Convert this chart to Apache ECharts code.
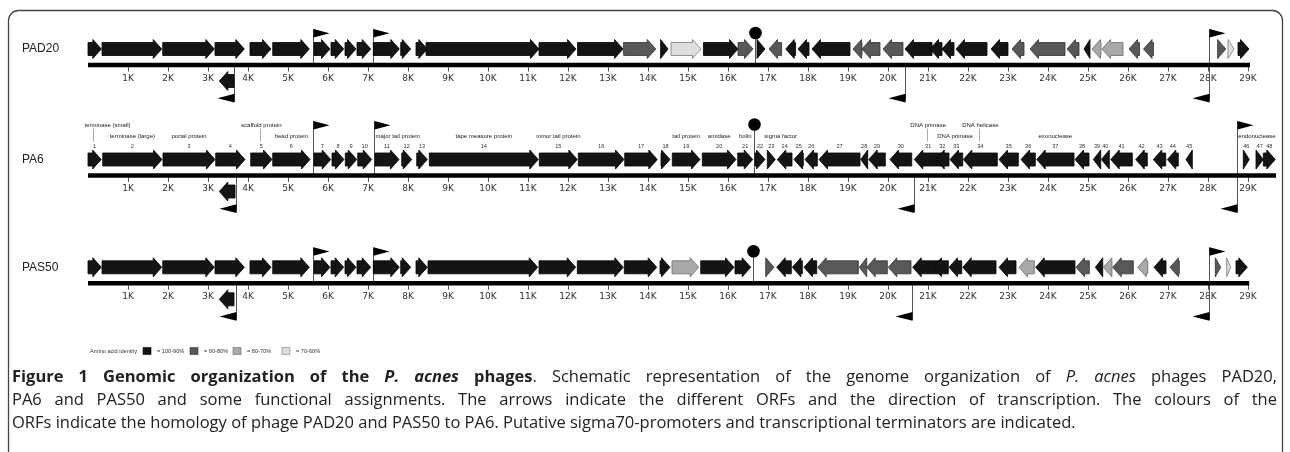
<!DOCTYPE html>
<html>
<head>
<meta charset="utf-8">
<script src="https://cdn.jsdelivr.net/npm/echarts@6/dist/echarts.min.js"></script>
<style>
html,body{margin:0;padding:0;background:#fff;}
#chart{width:1290px;height:452px;}
</style>
</head>
<body>
<div id="chart"></div>
<script>
// ---------------- DATA ----------------
const TICK_VALUES = [1000,2000,3000,4000,5000,6000,7000,8000,9000,10000,11000,12000,13000,14000,15000,16000,17000,18000,19000,20000,21000,22000,23000,24000,25000,26000,27000,28000,29000];
const TICK_LABELS = ['1K','2K','3K','4K','5K','6K','7K','8K','9K','10K','11K','12K','13K','14K','15K','16K','17K','18K','19K','20K','21K','22K','23K','24K','25K','26K','27K','28K','29K'];
const TRACK_NAMES = ['PAD20','PA6','PAS50'];
const GENOME_LENGTHS = [29050, 29700, 29030];

// identity class: 0 = 100-90%, 1 = 90-80%, 2 = 80-70%, 3 = 70-60%
const PAD20_START = [0,350,1868,3175,4050,4618,5650,6075,6425,6725,7133,7818,8200,8450,11275,12238,13390,14315,14575,15385,16250,16725,17025,17443,17750,18100,19125,19350,19875,20425,21050,21350,21700,22575,23100,23550,24475,24900,25100,25350,26025,26388,28240,28500,28750];
const PAD20_END   = [333,1843,3158,3908,4575,5533,6050,6393,6700,7068,7783,8068,8483,11275,12200,13375,14193,14500,15325,16250,16625,16925,17340,17690,18025,19050,19350,19800,20375,21100,21350,21650,22475,23000,23400,24425,24775,25050,25325,25875,26288,26638,28445,28650,29025];
const PAD20_STRAND = [1,1,1,1,1,1,1,1,1,1, 1,1,1,1,1,1,1,1,1,1, 1,1,-1,-1,-1,-1,-1,-1,-1,-1, -1,-1,-1,-1,-1,-1,-1,-1,-1,-1, -1,-1,1,1,1];
const PAD20_CLASS  = [0,0,0,0,0,0,0,0,0,0, 0,0,0,0,0,0,1,0,3,0, 1,0,1,0,0,0,1,1,1,0, 0,0,0,0,1,1,1,0,2,2, 1,1,1,3,0];
const PAD20_BELOW_START = [3283], PAD20_BELOW_END = [3650];
const PAD20_PROMOTER_FWD = [5633, 7120, 28035];
const PAD20_PROMOTER_REV = [3660, 20425, 28035];
const PAD20_TERMINATOR = [16675];

const PA6_START = [0,368,1875,3193,4068,4618,5650,6100,6433,6743,7175,7843,8218,8533,11283,12258,13418,14325,14608,15358,16243,16675,16983,17233,17650,17925,18275,19318,19518,20050,20658,21193,21550,21883,22775,23325,23718,24675,25133,25333,25568,26193,26633,26983,27450,28883,29200,29383];
const PA6_END   = [330,1850,3175,3925,4600,5550,6068,6400,6718,7093,7775,8093,8483,11258,12233,13400,14233,14550,15300,16200,16618,16925,17183,17600,17883,18233,19300,19493,19933,20593,21350,21525,21868,22733,23258,23683,24650,25025,25318,25533,26108,26483,26943,27258,27608,29033,29383,29683];
const PA6_STRAND = [1,1,1,1,1,1,1,1,1,1, 1,1,1,1,1,1,1,1,1,1, 1,1,1,-1,-1,-1,-1,-1,-1,-1, -1,-1,-1,-1,-1,-1,-1,-1,-1,-1, -1,-1,-1,-1,-1,1,1,1];
const PA6_BELOW_START = [3283], PA6_BELOW_END = [3675];
const PA6_PROMOTER_FWD = [5633, 7158, 28733];
const PA6_PROMOTER_REV = [3693, 20658, 28733];
const PA6_TERMINATOR = [16658];
const PA6_ANNOT_TEXT = ['terminase (small)','terminase (large)','portal protein','scaffold protein','head protein','major tail protein','tape measure protein','minor tail protein','tail protein','amidase','holin','sigma factor','DNA primase','DNA primase','DNA helicase','exonuclease','endonuclease'];
const PA6_ANNOT_GENE = [1,2,3,5,6,11,14,15,19,20,21,23,31,32,34,37,46];
const PA6_ANNOT_ROW  = [0,1,1,0,1,1,1,1,1,1,1,1,0,1,0,1,1];

const PAS50_START = [0,350,1868,3175,4050,4618,5650,6075,6425,6725,7133,7818,8200,8500,11275,12233,13408,14300,14600,15318,16175,16943,17218,17608,17900,18243,19283,19468,20008,20618,21125,21525,21868,22775,23275,23693,24700,25183,25383,25618,26243,26650,27050,28183,28468,28700];
const PAS50_END   = [333,1843,3158,3908,4575,5533,6050,6393,6700,7068,7783,8068,8483,11243,12193,13383,14218,14550,15268,16150,16568,17150,17583,17858,18218,19258,19468,19983,20575,21350,21508,21843,22700,23200,23658,24675,25033,25368,25600,26133,26493,26950,27283,28318,28568,28983];
const PAS50_STRAND = [1,1,1,1,1,1,1,1,1,1, 1,1,1,1,1,1,1,1,1,1, 1,1,-1,-1,-1,-1,-1,-1,-1,-1, -1,-1,-1,-1,-1,-1,-1,-1,-1,-1, -1,-1,-1,1,1,1];
const PAS50_CLASS  = [0,0,0,0,0,0,0,0,0,0, 0,0,0,0,0,0,0,0,2,0, 0,1,0,0,0,1,1,1,1,0, 0,0,0,0,2,0,1,0,2,1, 2,0,1,1,3,0];
const PAS50_BELOW_START = [3283], PAS50_BELOW_END = [3650];
const PAS50_PROMOTER_FWD = [5633, 7120, 28033];
const PAS50_PROMOTER_REV = [3693, 20608, 28033];
const PAS50_TERMINATOR = [16618];

const IDENTITY_LABELS = ['= 100-90%','= 90-80%','= 80-70%','= 70-60%'];
const LEGEND_TITLE = 'Amino acid identity:';

// ---------------- STYLE / LAYOUT ----------------
const FILLS   = ['#141414','#585858','#a9a9a9','#dedede'];
const STROKES = ['#000000','#303030','#6a6a6a','#7a7a7a'];
const AXIS_Y = [65, 175.5, 283.3];
const FLAG_TOP = [36, 54.5, 36];
const TERM_UP = [32, 51, 32];
const HEAD = 8.5, BODY_H = 6.5, HEAD_H = 9.5, GENE_OFF = 16;

const chart = echarts.init(document.getElementById('chart'), null, {renderer:'canvas'});

function geneSeries(ti, starts, ends, strands, classes, lane){
  const data = starts.map((s,k)=>[s, ends[k], strands[k], classes ? classes[k] : 0]);
  return {
    type:'custom', xAxisIndex:ti, yAxisIndex:ti, z:5, silent:true, data,
    renderItem:(params, api)=>{
      const s=api.value(0), e=api.value(1), d=api.value(2), c=api.value(3);
      const a=api.coord([s,0]), b=api.coord([e,0]);
      const cy = a[1] + (lane ? GENE_OFF : -GENE_OFF);
      const x0=a[0], x1=b[0];
      const head = Math.min(HEAD, x1-x0);
      let pts;
      if (d > 0){
        const hx = x1-head;
        pts = [[x0,cy-BODY_H],[hx,cy-BODY_H],[hx,cy-HEAD_H],[x1,cy],[hx,cy+HEAD_H],[hx,cy+BODY_H],[x0,cy+BODY_H]];
      } else {
        const hx = x0+head;
        pts = [[x1,cy-BODY_H],[hx,cy-BODY_H],[hx,cy-HEAD_H],[x0,cy],[hx,cy+HEAD_H],[hx,cy+BODY_H],[x1,cy+BODY_H]];
      }
      return {type:'polygon', shape:{points:pts}, style:{fill:FILLS[c], stroke:STROKES[c], lineWidth:0.8}};
    }
  };
}

function genomeLineSeries(ti){
  return {
    type:'custom', xAxisIndex:ti, yAxisIndex:ti, z:3, silent:true, data:[[0, GENOME_LENGTHS[ti]]],
    renderItem:(params, api)=>{
      const a=api.coord([api.value(0),0]), b=api.coord([api.value(1),0]);
      return {type:'rect', shape:{x:a[0], y:a[1]-2.3, width:b[0]-a[0], height:4.6}, style:{fill:'#000'}};
    }
  };
}

function promoterSeries(ti, fwd, rev){
  const data = fwd.map(p=>[p,1]).concat(rev.map(p=>[p,-1]));
  return {
    type:'custom', xAxisIndex:ti, yAxisIndex:ti, z:2, silent:true, data,
    renderItem:(params, api)=>{
      const p=api.coord([api.value(0),0]); const d=api.value(1);
      const x=Math.round(p[0])+0.5, y=p[1];
      if (d > 0){
        const top = y-FLAG_TOP[ti];
        return {type:'group', children:[
          {type:'line', shape:{x1:x,y1:y,x2:x,y2:top}, style:{stroke:'#555', lineWidth:1}},
          {type:'polygon', shape:{points:[[x,top],[x+16,top+4.2],[x,top+8.5]]}, style:{fill:'#000'}}
        ]};
      } else {
        const bot = y+37.5;
        return {type:'group', children:[
          {type:'line', shape:{x1:x,y1:y,x2:x,y2:bot-1}, style:{stroke:'#555', lineWidth:1}},
          {type:'polygon', shape:{points:[[x,bot],[x-17,bot-4.2],[x,bot-8.8]]}, style:{fill:'#000'}}
        ]};
      }
    }
  };
}

function terminatorSeries(ti, list){
  return {
    type:'custom', xAxisIndex:ti, yAxisIndex:ti, z:2, silent:true, data:list.map(p=>[p]),
    renderItem:(params, api)=>{
      const p=api.coord([api.value(0),0]);
      const x=Math.round(p[0])+0.5, y=p[1], cyc=y-TERM_UP[ti];
      return {type:'group', children:[
        {type:'line', shape:{x1:x,y1:y,x2:x,y2:cyc}, style:{stroke:'#555', lineWidth:1}},
        {type:'circle', shape:{cx:x, cy:cyc, r:6.3}, style:{fill:'#000'}}
      ]};
    }
  };
}

function geneNumberSeries(ti, starts, ends){
  const data = starts.map((s,k)=>[(s+ends[k])/2, k+1]);
  return {
    type:'custom', xAxisIndex:ti, yAxisIndex:ti, z:4, silent:true, data,
    renderItem:(params, api)=>{
      const p=api.coord([api.value(0),0]);
      return {type:'text', style:{text:String(api.value(1)), x:p[0], y:p[1]-29.5, textAlign:'center', textVerticalAlign:'middle', fontSize:5.6, fontFamily:'Liberation Sans', fill:'#333'}};
    }
  };
}

function annotationSeries(ti, starts, ends){
  const data = PA6_ANNOT_GENE.map((g,k)=>[starts[g-1], ends[g-1], PA6_ANNOT_ROW[k], k]);
  const leftAligned = {'terminase (small)':-3.5,'major tail protein':0.5,'sigma factor':-3,'DNA primase#13':1.5,'endonuclease':-5};
  return {
    type:'custom', xAxisIndex:ti, yAxisIndex:ti, z:4, silent:true, data,
    renderItem:(params, api)=>{
      const a=api.coord([api.value(0),0]), b=api.coord([api.value(1),0]);
      const row=api.value(2), k=api.value(3);
      const txt = PA6_ANNOT_TEXT[k];
      const key = (k===13) ? 'DNA primase#13' : txt;
      const cx=(a[0]+b[0])/2, y=a[1];
      const ty = row===0 ? y-50.5 : y-39.5;
      let tx=cx, align='center';
      if (leftAligned[key] !== undefined){ tx = a[0]+leftAligned[key]; align='left'; }
      const children = [{type:'text', style:{text:txt, x:tx, y:ty, textAlign:align, textVerticalAlign:'middle', fontSize:6, fontFamily:'Liberation Sans', fill:'#222'}}];
      if (row===0){
        const lx=Math.round(cx-1.5)+0.5;
        children.push({type:'line', shape:{x1:lx,y1:ty+3.5,x2:lx,y2:y-34}, style:{stroke:'#aaa', lineWidth:1}});
      }
      return {type:'group', children};
    }
  };
}

const grids=[], xAxes=[], yAxes=[], series=[];
for (let ti=0; ti<3; ti++){
  grids.push({left:88, width:1188, top:AXIS_Y[ti]-50, height:50});
  xAxes.push({gridIndex:ti, type:'value', min:0, max:29700,
    axisLine:{show:false}, splitLine:{show:false},
    axisTick:{show:true, length:6.5, lineStyle:{color:'#555', width:1}, customValues:TICK_VALUES},
    axisLabel:{show:true, customValues:TICK_VALUES, formatter:(v)=>{const i=TICK_VALUES.indexOf(v); return i>=0?TICK_LABELS[i]:'';}, fontSize:9, fontFamily:'DejaVu Sans', color:'#333', margin:9}
  });
  yAxes.push({gridIndex:ti, type:'value', min:0, max:1, show:false});
}
series.push(genomeLineSeries(0), genomeLineSeries(1), genomeLineSeries(2));
series.push(promoterSeries(0, PAD20_PROMOTER_FWD, PAD20_PROMOTER_REV), terminatorSeries(0, PAD20_TERMINATOR));
series.push(promoterSeries(1, PA6_PROMOTER_FWD, PA6_PROMOTER_REV), terminatorSeries(1, PA6_TERMINATOR));
series.push(promoterSeries(2, PAS50_PROMOTER_FWD, PAS50_PROMOTER_REV), terminatorSeries(2, PAS50_TERMINATOR));
series.push(geneSeries(0, PAD20_START, PAD20_END, PAD20_STRAND, PAD20_CLASS, 0));
series.push(geneSeries(0, PAD20_BELOW_START, PAD20_BELOW_END, [-1], null, 1));
series.push(geneSeries(1, PA6_START, PA6_END, PA6_STRAND, null, 0));
series.push(geneSeries(1, PA6_BELOW_START, PA6_BELOW_END, [-1], null, 1));
series.push(geneSeries(2, PAS50_START, PAS50_END, PAS50_STRAND, PAS50_CLASS, 0));
series.push(geneSeries(2, PAS50_BELOW_START, PAS50_BELOW_END, [-1], null, 1));
series.push(geneNumberSeries(1, PA6_START, PA6_END));
series.push(annotationSeries(1, PA6_START, PA6_END));

// ---------------- GRAPHICS: names, legend, caption, frame ----------------
const graphics = [];
graphics.push({type:'rect', shape:{x:8.5, y:10.5, width:1274, height:480, r:10}, style:{fill:'none', stroke:'#444', lineWidth:1.3}, silent:true});
TRACK_NAMES.forEach((n,ti)=>{
  graphics.push({type:'text', x:22, y:AXIS_Y[ti]-16, style:{text:n, fontSize:12, fontFamily:'Liberation Sans', fill:'#222', textVerticalAlign:'middle'}});
});
// legend
const LEG_Y = 351;
graphics.push({type:'text', x:90, y:LEG_Y, style:{text:LEGEND_TITLE, fontSize:5.6, fontFamily:'Liberation Sans', fill:'#333', textVerticalAlign:'middle'}});
const legSq = [143, 190, 233, 282];
IDENTITY_LABELS.forEach((lab,i)=>{
  graphics.push({type:'rect', shape:{x:legSq[i], y:LEG_Y-3.5, width:8, height:7}, style:{fill:FILLS[i], stroke:STROKES[i], lineWidth:0.6}});
  graphics.push({type:'text', x:legSq[i]+14, y:LEG_Y, style:{text:lab, fontSize:5.6, fontFamily:'Liberation Sans', fill:'#333', textVerticalAlign:'middle'}});
});

// caption with justification
const CAPTION_LINES = [
  {justify:true, words:[[['Figure','b']],[['1','b']],[['Genomic','b']],[['organization','b']],[['of','b']],[['the','b']],[['P.','bi']],[['acnes','bi']],[['phages','b'],['.','n']],[['Schematic','n']],[['representation','n']],[['of','n']],[['the','n']],[['genome','n']],[['organization','n']],[['of','n']],[['P.','i']],[['acnes','i']],[['phages','n']],[['PAD20,','n']]]},
  {justify:true, text:'PA6 and PAS50 and some functional assignments. The arrows indicate the different ORFs and the direction of transcription. The colours of the'},
  {justify:false, text:'ORFs indicate the homology of phage PAD20 and PAS50 to PA6. Putative sigma70-promoters and transcriptional terminators are indicated.'}
];
const CAP_X0 = 12, CAP_X1 = 1277, CAP_Y = [377, 400, 423], CAP_LAST_END = 1075;
const mctx = document.createElement('canvas').getContext('2d');
function fontOf(st, size){ return (st.indexOf('i')>=0?'italic ':'') + (st.indexOf('b')>=0?'bold ':'') + size + 'px "Open Sans"'; }
function meas(t, st, size){ mctx.font = fontOf(st,size); return mctx.measureText(t).width; }
const lines = CAPTION_LINES.map(L => L.words ? L.words : L.text.split(' ').map(w=>[[w,'n']]));
const lastW = (size)=>{ const ws=lines[2]; return ws.reduce((s,w)=>s+w.reduce((a,sg)=>a+meas(sg[0],sg[1],size),0),0) + meas(' ','n',size)*(ws.length-1); };
const CAP_SIZE = Math.round(100*(CAP_LAST_END-CAP_X0)/lastW(100)*10)/10;
lines.forEach((ws, li)=>{
  const widths = ws.map(w=>w.reduce((a,sg)=>a+meas(sg[0],sg[1],CAP_SIZE),0));
  const total = widths.reduce((a,b)=>a+b,0);
  const gap = CAPTION_LINES[li].justify ? (CAP_X1-CAP_X0-total)/(ws.length-1) : meas(' ','n',CAP_SIZE);
  let x = CAP_X0;
  ws.forEach((w,wi)=>{
    let sx = x;
    w.forEach(sg=>{
      graphics.push({type:'text', x:sx, y:CAP_Y[li], style:{text:sg[0], fontSize:CAP_SIZE, fontFamily:'Open Sans', fontWeight:sg[1].indexOf('b')>=0?'bold':'normal', fontStyle:sg[1].indexOf('i')>=0?'italic':'normal', fill:'#222', textVerticalAlign:'middle'}});
      sx += meas(sg[0], sg[1], CAP_SIZE);
    });
    x += widths[wi] + gap;
  });
});

chart.setOption({
  animation:false,
  backgroundColor:'#fff',
  grid:grids, xAxis:xAxes, yAxis:yAxes, series, graphic:graphics
});
</script>
</body>
</html>
